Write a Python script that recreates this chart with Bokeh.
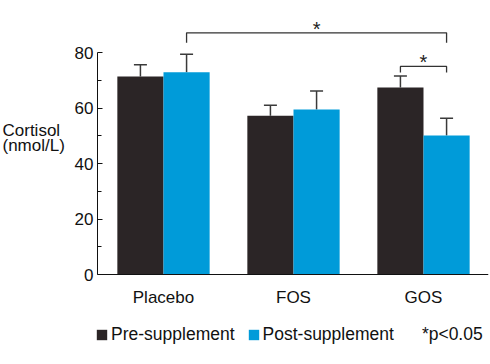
from bokeh.plotting import figure
from bokeh.models import (ColumnDataSource, Range1d, FixedTicker, Whisker, TeeHead,
                          Legend, LegendItem, Label)
from bokeh.core.properties import value
from bokeh.embed import file_html
from bokeh.resources import INLINE

# ---- data ----
groups = ["Placebo", "FOS", "GOS"]
pre = [71.4, 57.2, 67.4]
post = [72.9, 59.5, 50.1]
pre_err = [4.2, 3.8, 4.1]
post_err = [6.5, 6.6, 6.2]
series = ["Pre-supplement", "Post-supplement"]
y_ticks = [0, 20, 40, 60, 80]
y_minor = [10, 30, 50, 70]
y_title = ["Cortisol", "(nmol/L)"]
# significance brackets: (group index, series) -> (group index, series)
sig_from = [(0, "post"), (2, "pre")]
sig_to = [(2, "post"), (2, "post")]
sig_level = [87.1, 75.0]
sig_drop = [3.6, 2.2]
sig_text = ["*", "*"]
note_text = "*p<0.05"

FONT = "Liberation Sans"
FS = "17px"
TXT = "#111111"
PRE_C = "#2b2526"
POST_C = "#009bd9"
ERR_C = "#3a3a3a"
BW = 0.355
OFF = BW / 2
X0 = -0.5077          # left end of the category axis (where the y axis sits)
X1 = 2.5

p = figure(width=490, height=364, output_backend="svg", toolbar_location=None,
           x_range=Range1d(-1.2538, X1), y_range=Range1d(-32.43, 95.14),
           min_border_left=0, min_border_right=2, min_border_top=10, min_border_bottom=0)
p.outline_line_color = None
p.xgrid.visible = False
p.ygrid.visible = False

idx = list(range(len(groups)))
x_pre = [i - OFF for i in idx]
x_post = [i + OFF for i in idx]
src = ColumnDataSource(dict(x_pre=x_pre, x_post=x_post, pre=pre, post=post,
                            pre_up=[a + b for a, b in zip(pre, pre_err)],
                            post_up=[a + b for a, b in zip(post, post_err)]))

r_pre = p.vbar(x="x_pre", top="pre", width=BW, bottom=0, source=src,
               fill_color=PRE_C, line_color=None)
r_post = p.vbar(x="x_post", top="post", width=BW, bottom=0, source=src,
                fill_color=POST_C, line_color=None)
# invisible renderer used only to carry the note in the legend
r_note = p.scatter(x=[], y=[], size=1, fill_alpha=0, line_alpha=0)

for base, low, up in (("x_pre", "pre", "pre_up"), ("x_post", "post", "post_up")):
    w = Whisker(base=base, lower=low, upper=up, source=src, dimension="height",
                line_color=ERR_C, line_width=1.5, lower_head=None,
                upper_head=TeeHead(size=13, line_color=ERR_C, line_width=1.5))
    p.add_layout(w)

# significance brackets
def xpos(g, s):
    return g - OFF if s == "pre" else g + OFF

xs, ys, sx, sy = [], [], [], []
for (g0, s0), (g1, s1), lvl, d in zip(sig_from, sig_to, sig_level, sig_drop):
    a, b = xpos(g0, s0), xpos(g1, s1)
    xs.append([a, a, b, b])
    ys.append([lvl - d, lvl, lvl, lvl - d])
    sx.append((a + b) / 2)
    sy.append(lvl)
p.multi_line(xs=xs, ys=ys, line_color="#333333", line_width=1.3)
p.text(x=sx, y=sy, text=sig_text, text_font=value(FONT), text_font_size="20px",
       text_align="center", text_baseline="alphabetic", y_offset=-4, text_color="#222222")

# y axis with ticks, placed at the left end of the category axis
ya = p.yaxis[0]
ya.fixed_location = X0
ya.ticker = FixedTicker(ticks=y_ticks, minor_ticks=y_minor)
ya.bounds = (0, 80)
ya.major_tick_in = 5
ya.major_tick_out = 0
ya.minor_tick_in = 4
ya.minor_tick_out = 0
ya.major_label_standoff = 4
ya.major_label_text_font = FONT
ya.major_label_text_font_size = FS
ya.major_label_text_color = TXT
ya.axis_line_color = TXT
ya.major_tick_line_color = TXT
ya.minor_tick_line_color = TXT

# x axis, drawn at y = 0 inside the frame
xa = p.xaxis[0]
xa.fixed_location = 0
xa.bounds = (X0, X1)
xa.ticker = FixedTicker(ticks=idx)
xa.major_label_overrides = {i: g for i, g in zip(idx, groups)}
xa.major_tick_in = 0
xa.major_tick_out = 0
xa.minor_tick_in = 0
xa.minor_tick_out = 0
xa.major_label_standoff = 13
xa.major_label_text_font = FONT
xa.major_label_text_font_size = FS
xa.major_label_text_color = TXT
xa.axis_line_color = TXT

# horizontal y title
for txt, yy in zip(y_title, (234.3, 218.7)):
    p.add_layout(Label(x=2, y=yy, x_units="screen", y_units="screen", text=txt,
                       text_font=FONT, text_font_size=FS, text_color=TXT,
                       text_baseline="alphabetic", text_align="left"))

# legend below the x labels
leg = Legend(items=[LegendItem(label=series[0], renderers=[r_pre]),
                    LegendItem(label=series[1], renderers=[r_post]),
                    LegendItem(label=note_text, renderers=[r_note])],
             orientation="horizontal", location=(95, 19.5), padding=0, margin=0,
             spacing=12, glyph_width=13, glyph_height=13, label_standoff=3,
             label_height=16, label_text_font=FONT, label_text_font_size="17.5px",
             label_text_color=TXT, border_line_alpha=0, background_fill_alpha=0)
p.add_layout(leg)

open("out.html", "w").write(file_html(p, INLINE))
